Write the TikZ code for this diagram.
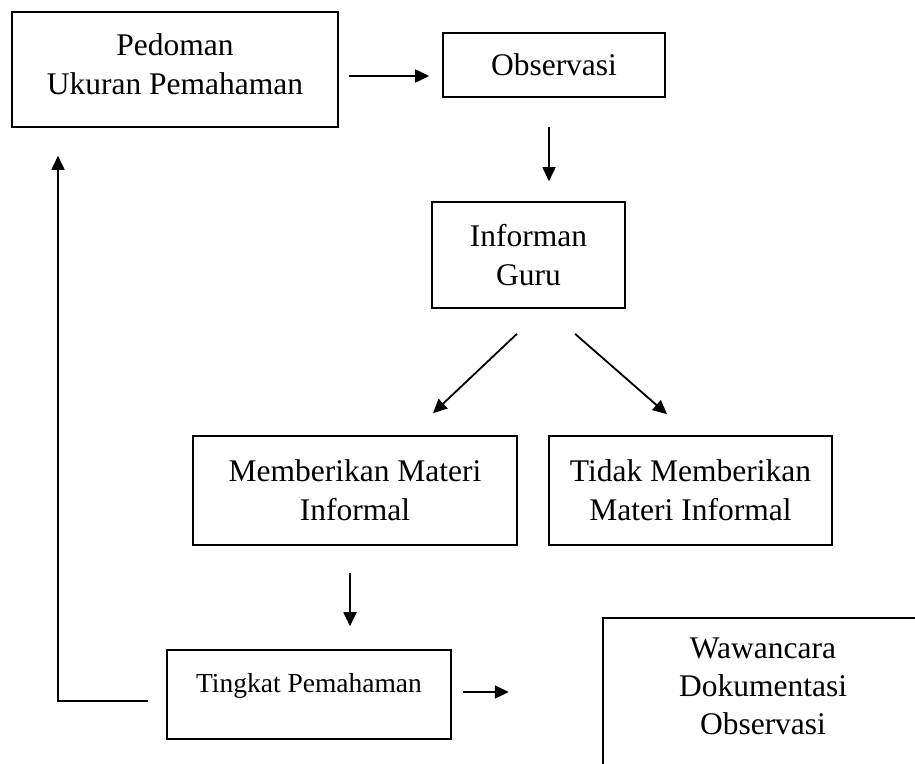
\documentclass[tikz,border=0pt]{standalone}
\usepackage{fontspec}
\setmainfont{Liberation Serif}
\usetikzlibrary{arrows.meta}

\begin{document}
\begin{tikzpicture}[
  x=1pt, y=-1pt,
  font=\fontsize{31.5}{39}\selectfont,
  box/.style={draw=black, line width=1.6pt, align=center, inner sep=0pt},
  arr/.style={-{Triangle[length=14pt, width=13pt]}, line width=1.8pt},
]
\useasboundingbox[fill=white] (0,0) rectangle (915,763);

% ---------------- top row -----------------------------------------------
\node[box, minimum width=326pt, minimum height=115pt, text depth=10pt]
  (ped) at (175,69.5) {Pedoman\\Ukuran Pemahaman};
\node[box, minimum width=222pt, minimum height=64pt] (obs) at (554,65)
  {Observasi};

% ---------------- informant ---------------------------------------------
\node[box, minimum width=193pt, minimum height=106pt] (inf) at (528.5,255)
  {Informan\\Guru};

% ---------------- two branches ------------------------------------------
\node[box, minimum width=324pt, minimum height=109pt] (beri) at (355,490.5)
  {Memberikan Materi\\Informal};
\node[box, minimum width=283pt, minimum height=109pt] (tidak) at (690.5,490.5)
  {Tidak Memberikan\\Materi Informal};

% ---------------- bottom row --------------------------------------------
\node[box, minimum width=284pt, minimum height=89pt, text depth=24pt,
  font=\fontsize{27.5}{34}\selectfont] (tingkat) at (309,694.5)
  {Tingkat Pemahaman};
\node[box, anchor=north west, minimum width=340pt, minimum height=180pt]
  (waw) at (602,617) {};
\node[align=center, font=\fontsize{31.5}{38}\selectfont] (wawtext) at (763,686)
  {Wawancara\\Dokumentasi\\Observasi};

% ---------------- arrows ------------------------------------------------
\draw[arr] ([xshift=10pt,yshift=-6.5pt]ped.east) -- ([xshift=-13pt,yshift=-11pt]obs.west);
\draw[arr] ([xshift=-5pt,yshift=-29pt]obs.south) -- ([xshift=20.5pt,yshift=20pt]inf.north);
\draw[arr] ([xshift=-11.5pt,yshift=-25pt]inf.south) -- ([xshift=78pt,yshift=22pt]beri.north);
\draw[arr] ([xshift=46.5pt,yshift=-25pt]inf.south) -- ([xshift=-23.5pt,yshift=21pt]tidak.north);
\draw[arr] ([xshift=-5pt,yshift=-27pt]beri.south) -- ([xshift=41pt,yshift=23pt]tingkat.north);
\draw[arr] ([xshift=11pt,yshift=2.5pt]tingkat.east) -- ([xshift=57pt,yshift=2.5pt]tingkat.east);

% ---------------- feedback loop -----------------------------------------
\draw[arr] ([xshift=-18pt,yshift=-6.5pt]tingkat.west) -| ([xshift=-117pt,yshift=-28pt]ped.south);

\end{tikzpicture}
\end{document}
